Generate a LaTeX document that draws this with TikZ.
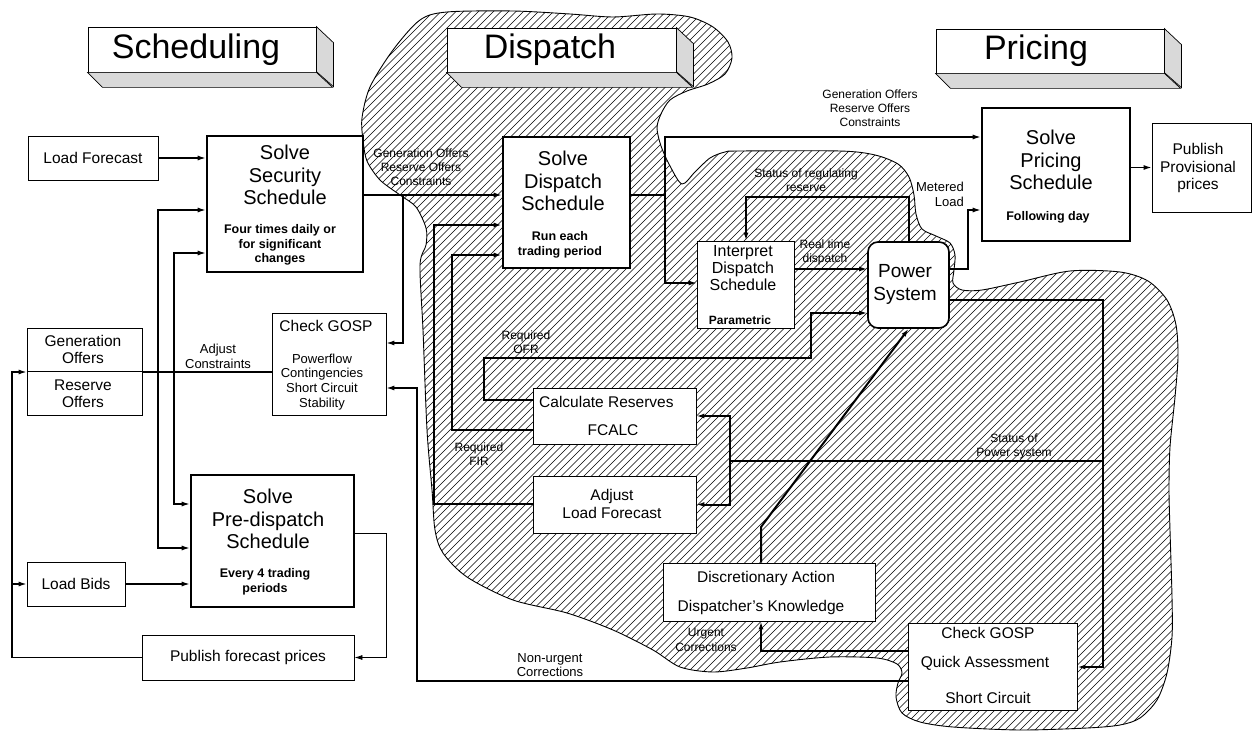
\documentclass[tikz,border=0pt]{standalone}
\usepackage{fontspec}
\setmainfont{Liberation Sans}
\usetikzlibrary{arrows.meta}
\begin{document}
\begin{tikzpicture}[x=1pt,y=-1pt,
  box/.style={draw, line width=0.8pt, fill=white, inner sep=0pt},
  tbox/.style={draw, line width=2.6pt, fill=white, inner sep=0pt},
  rbox/.style={draw, line width=1.6pt, fill=white, inner sep=0pt, rounded corners=10pt},
  txt/.style={inner sep=0pt, align=center},
  ttl/.style={txt, font=\fontsize{34}{36}\selectfont},
  big/.style={txt, font=\fontsize{20}{22.5}\selectfont},
  med/.style={txt, font=\fontsize{15.5}{17.5}\selectfont},
  psf/.style={txt, font=\fontsize{19}{23}\selectfont},
  itf/.style={txt, font=\fontsize{16}{17}\selectfont},
  smb/.style={txt, font=\bfseries\fontsize{12.5}{14.5}\selectfont},
  sm/.style={txt, font=\fontsize{13}{14.8}\selectfont},
  lbl/.style={txt, font=\fontsize{12}{14.2}\selectfont},
  conn/.style={line width=1.3pt},
  thn/.style={line width=0.8pt},
  thk/.style={line width=2pt},
  arr/.style={-{Latex[length=8pt,width=5pt]}},
  face/.style={draw, line width=0.7pt, fill=gray!30}]
\useasboundingbox (0,0) rectangle (1259,735);

% ---------- hatched dispatch region ----------
\def\region{plot[smooth cycle, tension=0.5] coordinates {
(363,140) (362,118) (370,87) (393,50) (420,20) (447,12) (513,11) (570,14)
(613,17) (657,14) (690,17) (713,27) (728,42) (732,58) (725,74) (708,84)
(687,91) (670,100) (661,114) (657,128) (661,146) (670,166) (682,184)
(695,172) (710,158) (725,152) (740,151) (840,151) (875,155) (898,164)
(909,177) (914,195) (916,214) (922,229) (936,236) (950,243) (955,255)
(954,270) (953,283) (962,290) (982,290) (1020,282) (1070,271) (1120,272)
(1148,281) (1167,300) (1176,325) (1178,357) (1175,397) (1170,447)
(1169,490) (1170,530) (1172,597) (1172,637) (1167,673) (1157,700)
(1140,718) (1120,725) (1087,728) (1020,730) (953,727) (920,722) (902,713)
(896,697) (898,683) (902,673) (897,664) (877,658) (830,657) (780,662)
(747,668) (713,672) (680,667) (653,650) (613,630) (567,613) (513,600)
(467,577) (443,553) (435,530) (432,490) (427,430) (423,330) (420,265)
(426,245) (426,228) (416,207) (400,195) (380,180) (367,161)}}
\begin{scope}
  \clip \region;
  \foreach \i in {-760,-752.5,...,1260}
    \draw[line width=0.65pt] (\i,740) -- ++(745,-745);
\end{scope}
\draw[line width=0.9pt] \region;

% ---------- title bars ----------
\node[box, minimum width=228pt, minimum height=45pt] (tS) at (202,49.5) {};
\draw[face] (tS.north east) -- ++(17,16) -- ++(0,44) -- ++(-17,-15) -- cycle;
\draw[face] (tS.south west) -- ++(15,15) -- ++(230,0) -- (tS.south east) -- cycle;
\node[ttl] (tSt) at (196,50) {Scheduling};

\node[box, minimum width=229pt, minimum height=44pt] (tD) at (561.5,50) {};
\draw[face] (tD.north east) -- ++(17,16) -- ++(0,43) -- ++(-17,-15) -- cycle;
\draw[face] (tD.south west) -- ++(15,15) -- ++(231,0) -- (tD.south east) -- cycle;
\node[ttl] (tDt) at (550,50) {Dispatch};

\node[box, minimum width=228pt, minimum height=44pt] (tP) at (1050,51) {};
\draw[face] (tP.north east) -- ++(17,16) -- ++(0,43) -- ++(-17,-15) -- cycle;
\draw[face] (tP.south west) -- ++(15,15) -- ++(230,0) -- (tP.south east) -- cycle;
\node[ttl] (tPt) at (1036,51) {Pricing};

% ---------- boxes ----------
\node[box, minimum width=130pt, minimum height=44pt, med] (lf) at (93,158) {Load Forecast};
\node[tbox, minimum width=156pt, minimum height=136pt] (sec) at (285,204) {};
\node[big] (sect) at (285,175) {Solve\\Security\\Schedule};
\node[smb] (secs) at (280,245) {Four times daily or\\for significant\\changes};

\node[box, minimum width=115pt, minimum height=87pt] (gen) at (84.5,371.5) {};
\draw[thn] (gen.west) -- (gen.east);
\node[med] (gent) at (83,349.5) {Generation\\Offers};
\node[med] (resT) at (83,393.5) {Reserve\\Offers};

\node[box, minimum width=114pt, minimum height=102pt] (chk1) at (329,364) {};
\node[med] (chk1t) at (326,326) {Check GOSP};
\node[sm] (chk1s) at (322,382) {Powerflow\\Contingencies\\Short Circuit\\Stability};

\node[tbox, minimum width=163pt, minimum height=132pt] (pre) at (272.5,541) {};
\node[big] (pret) at (268,519) {Solve\\Pre-dispatch\\Schedule};
\node[smb] (pres) at (265,582) {Every 4 trading\\periods};

\node[box, minimum width=98pt, minimum height=44pt, med] (lb) at (76,584) {Load Bids};
\node[box, minimum width=212pt, minimum height=45pt, med] (pfp) at (248,657.5) {Publish forecast prices};

\node[tbox, minimum width=127pt, minimum height=131pt] (dis) at (566.5,202.5) {};
\node[big] (dist) at (563,181) {Solve\\Dispatch\\Schedule};
\node[smb] (diss) at (560,245) {Run each\\trading period};

\node[box, minimum width=97pt, minimum height=87pt] (itp) at (745.5,284.5) {};
\node[itf] (itpt) at (743,268) {Interpret\\Dispatch\\Schedule};
\node[smb, font=\bfseries\fontsize{12}{14}\selectfont] (itps) at (740,320) {Parametric};

\node[rbox, minimum width=81pt, minimum height=86pt] (ps) at (908.5,285) {};
\node[psf] (pst) at (905,284.5) {Power\\System};

\node[box, minimum width=163pt, minimum height=56pt] (cr) at (614.5,416) {};
\node[med, anchor=west] (crt) at (539,402) {Calculate Reserves};
\node[med] (crs) at (613,430) {FCALC};

\node[box, minimum width=163pt, minimum height=57pt] (alf) at (614.5,504.5) {};
\node[med] (alft) at (612,504) {Adjust\\Load Forecast};

\node[box, minimum width=212pt, minimum height=58pt] (da) at (769,592) {};
\node[med] (dat) at (766,578) {Discretionary Action};
\node[med] (das) at (761,607) {Dispatcher's Knowledge};

\node[box, minimum width=169pt, minimum height=87pt] (chk2) at (992.5,666.5) {};
\node[med] (chk2t) at (988,633) {Check GOSP};
\node[med] (chk2m) at (985,663) {Quick Assessment};
\node[med] (chk2s) at (988,698) {Short Circuit};

\node[tbox, minimum width=148pt, minimum height=133pt] (pr) at (1056,174.5) {};
\node[big] (prt) at (1051,160) {Solve\\Pricing\\Schedule};
\node[smb] (prs) at (1048,217) {Following day};

\node[box, minimum width=99pt, minimum height=89pt] (pub) at (1201.5,167.5) {};
\node[med] (pubt) at (1198,168) {Publish\\Provisional\\prices};

% ---------- coordinates ----------
\coordinate (gL) at (12,372);
\coordinate (gLb) at (12,657.5);
\coordinate (lbL) at (12,584);
\coordinate (v1t) at (158,210);
\coordinate (v1b) at (158,548);
\coordinate (v2t) at (174,253);
\coordinate (v2b) at (174,504);
\coordinate (pa) at (386,533);
\coordinate (pb) at (386,657.5);
\coordinate (j1) at (403,195);
\coordinate (j1b) at (403,343);
\coordinate (dA) at (665,195);
\coordinate (dT) at (665,137);
\coordinate (dB) at (665,283);
\coordinate (sr1) at (909,197);
\coordinate (sr2) at (746,197);
\coordinate (rt) at (0,269);
\coordinate (m1) at (968,269);
\coordinate (m2) at (968,210);
\coordinate (s1) at (1103,300);
\coordinate (s2) at (1103,667);
\coordinate (s3) at (1103,461);
\coordinate (s4) at (730,461);
\coordinate (s5) at (730,416);
\coordinate (s6) at (730,504.5);
\coordinate (o1) at (484,400);
\coordinate (o2) at (484,358);
\coordinate (o3) at (811,358);
\coordinate (o4) at (811,313);
\coordinate (f1) at (452,430);
\coordinate (f2) at (452,255);
\coordinate (a1) at (434,504);
\coordinate (a2) at (434,225);
\coordinate (d1) at (761,527);
\coordinate (u1) at (761,651);
\coordinate (n1) at (417,681);
\coordinate (n2) at (417,388);

% ---------- connectors: scheduling ----------
\draw[conn,arr] (lf.east) -- (lf.east -| sec.west);
\draw[conn,arr] (j1 -| sec.east) -- (j1 -| dis.west);
\draw[conn,arr] (j1) -- (j1b) -- (j1b -| chk1.east);
\draw[conn] (gL -| gen.east) -- (gL -| chk1.west);
\draw[conn,{Latex[length=8pt,width=5pt]}-{Latex[length=8pt,width=5pt]}] (v1t -| sec.west) -- (v1t) -- (v1b) -- (v1b -| pre.west);
\draw[conn,{Latex[length=8pt,width=5pt]}-{Latex[length=8pt,width=5pt]}] (v2t -| sec.west) -- (v2t) -- (v2b) -- (v2b -| pre.west);
\draw[thn,arr] (pa -| pre.east) -- (pa) -- (pb) -- (pb -| pfp.east);
\draw[conn,arr] (pfp.west) -- (gLb) -- (gL) -- (gL -| gen.west);
\draw[conn,arr] (lbL) -- (lb.west);
\draw[conn,arr] (lb.east) -- (lb.east -| pre.west);
\draw[conn,arr] (n1 -| chk2.west) -- (n1) -- (n2) -- (n2 -| chk1.east);

% ---------- connectors: dispatch ----------
\draw[conn,arr] (dA -| dis.east) -- (dA) -- (dT) -- (dT -| pr.west);
\draw[conn,arr] (dA) -- (dB) -- (dB -| itp.west);
\draw[thk,arr] (sr1 |- ps.north) -- (sr1) -- (sr2) -- (sr2 |- itp.north);
\draw[thk,arr] (rt -| itp.east) -- (rt -| ps.west);
\draw[conn,arr] (m1 -| ps.east) -- (m1) -- (m2) -- (m2 -| pr.west);
\draw[conn,arr] (pub.west -| pr.east) -- (pub.west);
\draw[thk,arr] (s1 -| ps.east) -- (s1) -- (s2) -- (s2 -| chk2.east);
\draw[thk] (s3) -- (s4);
\draw[thk,arr] (s4) -- (s5) -- (s5 -| cr.east);
\draw[thk,arr] (s4) -- (s6) -- (s6 -| alf.east);
\draw[thk,arr] (o1 -| cr.west) -- (o1) -- (o2) -- (o3) -- (o4) -- (o4 -| ps.west);
\draw[thk,arr] (f1 -| cr.west) -- (f1) -- (f2) -- (f2 -| dis.west);
\draw[thk,arr] (a1 -| alf.west) -- (a1) -- (a2) -- (a2 -| dis.west);
\draw[thk,arr] (d1 |- da.north) -- (d1) -- (ps.south);
\draw[thk,arr] (u1 -| chk2.west) -- (u1) -- (u1 |- da.south);

% ---------- labels ----------
\node[lbl] (lg1) at (421,167) {Generation Offers\\Reserve Offers\\Constraints};
\node[lbl] (lg2) at (870,108) {Generation Offers\\Reserve Offers\\Constraints};
\node[sm] (lac) at (218,356.5) {Adjust\\Constraints};
\node[lbl] (lsr) at (806,180.5) {Status of regulating\\reserve};
\node[sm, anchor=east, align=right] (lml) at (964,194.5) {Metered\\Load};
\node[lbl] (lrt) at (825,252) {Real time\\dispatch};
\node[lbl] (lofr) at (526,342) {Required\\OFR};
\node[lbl] (lfir) at (479,454) {Required\\FIR};
\node[lbl] (lsp) at (1014,446.5) {Status of\\Power system};
\node[lbl] (luc) at (706,640) {Urgent\\Corrections};
\node[sm] (lnu) at (550,665) {Non-urgent\\Corrections};
\end{tikzpicture}
\end{document}
